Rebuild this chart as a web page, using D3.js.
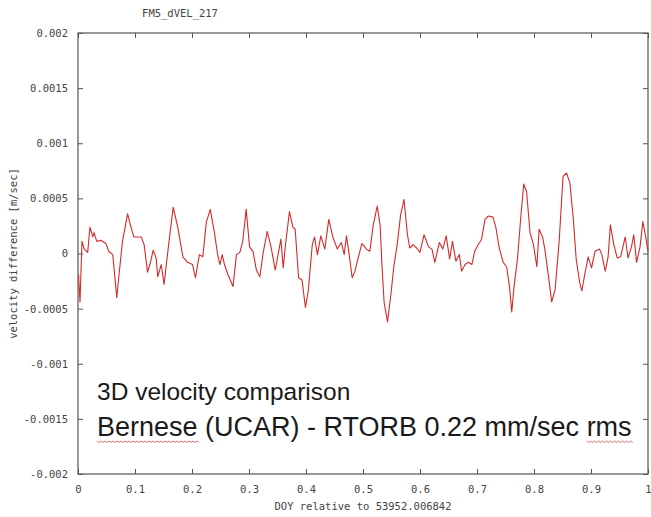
<!DOCTYPE html>
<html>
<head>
<meta charset="utf-8">
<script src="https://cdn.jsdelivr.net/npm/d3@7"></script>
<style>
  body { margin: 0; background: #fff; }
  svg { display: block; }
  .axis text { font-family: "DejaVu Sans Mono", monospace; font-size: 10.5px; fill: #444; }
  .axis path, .axis line { stroke: #555; }
</style>
</head>
<body>
<svg id="chart"></svg>
<script>
// DOY fraction (x) and velocity difference in m/sec (y)
var doy = [0.001,0.0035,0.007,0.011,0.017,0.021,0.026,0.028,0.033,0.040,0.049,0.054,0.061,0.068,0.072,0.078,0.087,0.093,0.098,0.111,
  0.116,0.122,0.126,0.132,0.137,0.140,0.146,0.151,0.159,0.167,0.175,0.184,0.192,0.201,0.206,0.213,0.219,0.225,0.232,0.239,
  0.245,0.249,0.253,0.257,0.263,0.272,0.278,0.284,0.289,0.295,0.301,0.307,0.313,0.319,0.325,0.332,0.339,0.346,0.356,0.360,
  0.364,0.371,0.377,0.381,0.387,0.393,0.399,0.404,0.411,0.415,0.420,0.426,0.433,0.440,0.447,0.455,0.462,0.467,0.471,0.475,
  0.481,0.486,0.491,0.498,0.500,0.506,0.512,0.518,0.525,0.530,0.533,0.537,0.543,0.549,0.554,0.560,0.566,0.572,0.578,0.582,
  0.588,0.594,0.600,0.607,0.615,0.621,0.626,0.634,0.640,0.646,0.652,0.657,0.663,0.669,0.673,0.679,0.685,0.691,0.696,0.702,
  0.708,0.714,0.720,0.728,0.733,0.739,0.746,0.752,0.757,0.761,0.765,0.771,0.777,0.782,0.787,0.793,0.799,0.805,0.809,0.815,
  0.819,0.825,0.831,0.837,0.844,0.851,0.857,0.863,0.869,0.874,0.880,0.884,0.889,0.895,0.901,0.907,0.915,0.919,0.925,0.930,
  0.934,0.940,0.946,0.952,0.960,0.965,0.971,0.975,0.980,0.986,0.991,0.996,1.000];
var dvel = [-0.00019,-0.00044,0.00011,0.00004,0.00001,0.00024,0.00015,0.00019,0.00011,0.00012,0.00009,0.00002,-0.00001,-0.00040,-0.00019,0.00011,0.00036,0.00024,0.00015,0.00015,
  0.00008,-0.00017,-0.00010,0.00003,-0.00004,-0.00021,-0.00010,-0.00028,0.00008,0.00042,0.00024,-0.00003,-0.00008,-0.00010,-0.00022,-0.00001,-0.00003,0.00028,0.00040,0.00020,
  -0.00001,-0.00010,-0.00001,-0.00010,-0.00019,-0.00030,-0.00001,0.00001,0.00011,0.00040,0.00006,0.00002,-0.00015,-0.00021,0.00001,0.00020,0.00005,-0.00015,0.00013,-0.00013,
  0.00008,0.00038,0.00024,0.00022,-0.00022,-0.00024,-0.00049,-0.00034,0.00008,0.00015,-0.00001,0.00016,0.00004,0.00031,0.00015,0.00004,0.00010,-0.00001,0.00016,0.00002,
  -0.00022,-0.00016,-0.00005,0.00009,0.00008,0.00004,0.00002,0.00026,0.00043,0.00026,-0.00008,-0.00044,-0.00062,-0.00037,-0.00012,0.00008,0.00035,0.00049,0.00017,0.00005,
  0.00008,0.00005,0.00001,0.00017,0.00006,0.00004,-0.00008,0.00010,0.00004,0.00016,-0.00005,0.00011,-0.00007,-0.00001,-0.00016,-0.00010,-0.00008,-0.00010,0.00002,0.00008,
  0.00013,0.00031,0.00034,0.00033,0.00024,0.00005,-0.00008,-0.00012,-0.00030,-0.00053,-0.00030,-0.00005,0.00034,0.00063,0.00056,0.00019,0.00008,-0.00012,0.00022,0.00015,
  0.00004,-0.00019,-0.00044,-0.00033,0.00010,0.00070,0.00073,0.00064,0.00031,-0.00005,-0.00026,-0.00034,-0.00019,-0.00003,-0.00013,0.00002,0.00004,-0.00001,-0.00016,-0.00003,
  0.00026,0.00008,-0.00004,-0.00003,0.00015,-0.00004,0.00006,0.00017,-0.00008,0.00006,0.00029,0.00015,0.00002];

var xTicks = [0,0.1,0.2,0.3,0.4,0.5,0.6,0.7,0.8,0.9,1];
var xTickLabels = ["0","0.1","0.2","0.3","0.4","0.5","0.6","0.7","0.8","0.9","1"];
var yTicks = [0.002,0.0015,0.001,0.0005,0,-0.0005,-0.001,-0.0015,-0.002];
var yTickLabels = ["0.002","0.0015","0.001","0.0005","0","-0.0005","-0.001","-0.0015","-0.002"];

var title = "FM5_dVEL_217";
var xLabel = "DOY relative to 53952.006842";
var yLabel = "velocity difference [m/sec]";
var noteLines = ["3D velocity comparison", "Bernese (UCAR) - RTORB 0.22 mm/sec rms"];

var W = 651, H = 517;
var margin = {top: 33, right: 3, bottom: 43, left: 78},
    width = W - margin.left - margin.right,
    height = H - margin.top - margin.bottom;

var svg = d3.select("#chart").attr("width", W).attr("height", H);
var g = svg.append("g")
    .attr("transform", "translate(" + margin.left + "," + margin.top + ")");

var x = d3.scaleLinear().domain([0, 1]).range([0, width]);
var y = d3.scaleLinear().domain([-0.002, 0.002]).range([height, 0]);

// frame
g.append("rect")
    .attr("width", width).attr("height", height)
    .attr("fill", "none").attr("stroke", "#555").attr("stroke-width", 1.2);

// ticks pointing inward on all four sides
g.append("g").attr("class", "axis")
    .attr("transform", "translate(0," + height + ")")
    .call(d3.axisBottom(x).tickValues(xTicks).tickSize(-5).tickPadding(12)
      .tickFormat(function(d, i) { return xTickLabels[i]; }));
g.append("g").attr("class", "axis")
    .call(d3.axisTop(x).tickValues(xTicks).tickSize(-5).tickFormat(""));
g.append("g").attr("class", "axis")
    .call(d3.axisLeft(y).tickValues(yTicks).tickSize(-5).tickPadding(10)
      .tickFormat(function(d, i) { return yTickLabels[i]; }));
g.append("g").attr("class", "axis")
    .attr("transform", "translate(" + width + ",0)")
    .call(d3.axisRight(y).tickValues(yTicks).tickSize(-5).tickFormat(""));
g.selectAll(".axis .domain").remove();

// the series
var pts = d3.zip(doy, dvel);
g.append("path")
    .datum(pts)
    .attr("fill", "none")
    .attr("stroke", "#d42a2a")
    .attr("stroke-width", 1.1)
    .attr("stroke-linejoin", "round")
    .attr("d", d3.line().x(function(d) { return x(d[0]); }).y(function(d) { return y(d[1]); }));

// titles
svg.append("text")
    .attr("x", 180).attr("y", 17)
    .attr("text-anchor", "middle")
    .style("font-family", "DejaVu Sans Mono, monospace").style("font-size", "10.5px").style("fill", "#444")
    .text(title);
svg.append("text")
    .attr("x", margin.left + width / 2).attr("y", 510)
    .attr("text-anchor", "middle")
    .style("font-family", "DejaVu Sans Mono, monospace").style("font-size", "10.5px").style("fill", "#444")
    .text(xLabel);
svg.append("text")
    .attr("transform", "translate(17," + (margin.top + height / 2) + ") rotate(-90)")
    .attr("text-anchor", "middle")
    .style("font-family", "DejaVu Sans Mono, monospace").style("font-size", "10.5px").style("fill", "#444")
    .text(yLabel);

// annotation pasted over the plot
var noteSizes = [24.5, 27];
var note = svg.append("g").attr("transform", "translate(97,0)");
note.selectAll("text")
    .data(noteLines)
  .enter().append("text")
    .attr("x", 0)
    .attr("y", function(d, i) { return 400 + i * 36; })
    .style("font-family", "Liberation Sans, Arial, sans-serif")
    .style("font-size", function(d, i) { return noteSizes[i] + "px"; })
    .style("fill", "#1a1a1a")
    .text(function(d) { return d; });

// spell-check squiggles under "Bernese" and "rms"
var line2 = note.selectAll("text").nodes()[1];
function squiggle(x0, x1, yy) {
  var p = "M" + x0 + "," + yy;
  for (var xx = x0, k = 0; xx < x1; xx += 2, k++) p += "L" + (xx + 2) + "," + (yy + (k % 2 ? 0 : 1.5));
  return p;
}
var n = noteLines[1].length;
var bEnd = line2.getEndPositionOfChar(6).x;
var rStart = line2.getStartPositionOfChar(n - 3).x;
var rEnd = line2.getEndPositionOfChar(n - 1).x;
note.append("path").attr("d", squiggle(0, bEnd, 441))
    .attr("fill", "none").attr("stroke", "#e07070").attr("stroke-width", 1);
note.append("path").attr("d", squiggle(rStart, rEnd, 441))
    .attr("fill", "none").attr("stroke", "#e07070").attr("stroke-width", 1);
</script>
</body>
</html>
